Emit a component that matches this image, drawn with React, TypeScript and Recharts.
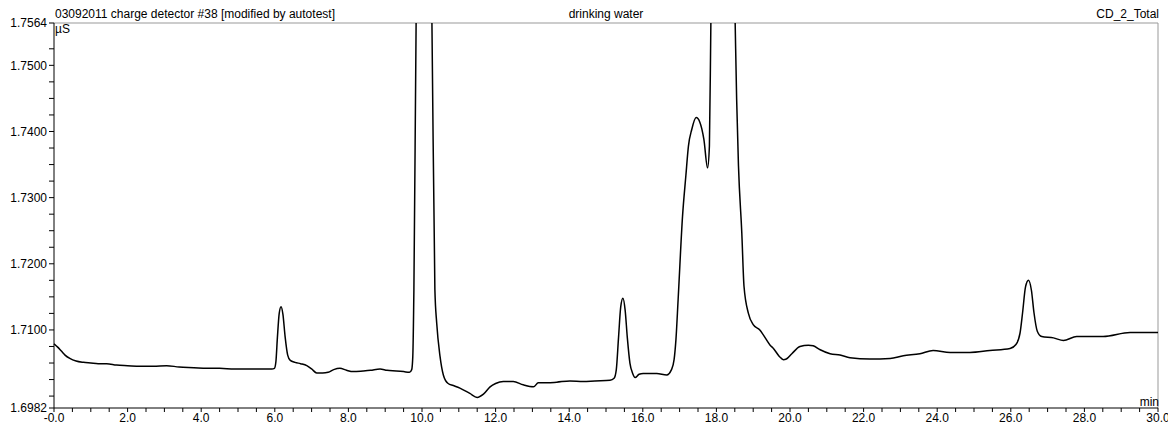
import React from 'react';
import { LineChart, Line, XAxis, YAxis, ReferenceLine } from 'recharts';

// retention time (min) and conductivity (µS)
const times = [
    0.0, 0.1, 0.2, 0.3, 0.43, 0.6, 0.8, 1.0, 1.2, 1.43, 1.7, 2.0, 2.34, 2.7, 3.06, 3.4, 3.8, 4.15, 4.5, 4.9,
    5.24, 5.6, 5.92, 5.99, 6.03, 6.07, 6.12, 6.17, 6.22, 6.28, 6.35, 6.42, 6.55, 6.7, 6.87, 7.0, 7.14, 7.3, 7.45, 7.6,
    7.77, 7.95, 8.13, 8.4, 8.6, 8.86, 9.05, 9.3, 9.5, 9.66, 9.72, 9.75, 9.78, 9.84, 9.95, 10.05, 10.17, 10.27, 10.35, 10.4,
    10.49, 10.58, 10.71, 10.85, 11.03, 11.3, 11.5, 11.67, 11.85, 12.0, 12.21, 12.48, 12.75, 13.03, 13.16, 13.4, 13.66, 14.02, 14.38, 14.7,
    15.11, 15.22, 15.28, 15.34, 15.4, 15.46, 15.52, 15.58, 15.65, 15.72, 15.79, 15.9, 16.01, 16.38, 16.65, 16.78, 16.85, 16.9, 16.96, 17.08,
    17.17, 17.24, 17.33, 17.45, 17.55, 17.66, 17.76, 17.81, 17.85, 18.0, 18.18, 18.36, 18.51, 18.55, 18.6, 18.69, 18.75, 18.87, 19.0, 19.18,
    19.27, 19.46, 19.55, 19.71, 19.82, 19.9, 20.05, 20.27, 20.5, 20.63, 20.82, 21.09, 21.36, 21.63, 22.17, 22.72, 23.08, 23.53, 23.89, 24.35,
    24.89, 25.43, 25.98, 26.14, 26.25, 26.32, 26.4, 26.48, 26.56, 26.63, 26.72, 26.84, 27.16, 27.43, 27.79, 28.51, 29.24, 29.97, 30.0
];
const conductivity = [
    1.7079, 1.7074, 1.7068, 1.7062, 1.7057, 1.7053, 1.7051, 1.705, 1.7049, 1.7049, 1.7047, 1.7046, 1.7045, 1.7045, 1.7046, 1.7044, 1.7043, 1.7042, 1.7042, 1.7041,
    1.7041, 1.7041, 1.7041, 1.7042, 1.7052, 1.7088, 1.7125, 1.7135, 1.7124, 1.709, 1.7062, 1.7054, 1.7051, 1.7049, 1.7046, 1.7041, 1.7035, 1.7035, 1.7036, 1.704,
    1.7042, 1.7039, 1.7037, 1.7038, 1.7039, 1.7041, 1.7039, 1.7038, 1.7037, 1.7036, 1.704, 1.706, 1.7161, 1.7564, 1.79, 1.81, 1.79, 1.7564, 1.7161, 1.711,
    1.706, 1.7032, 1.7019, 1.7016, 1.7012, 1.7004, 1.6998, 1.7003, 1.7014, 1.7019, 1.7022, 1.7022, 1.7017, 1.7014, 1.702, 1.702, 1.7021, 1.7023, 1.7022, 1.7023,
    1.7024, 1.7027, 1.704, 1.7088, 1.7135, 1.7148, 1.713, 1.7088, 1.705, 1.7035, 1.7028, 1.7033, 1.7034, 1.7034, 1.7032, 1.704, 1.7055, 1.7085, 1.7146, 1.7272,
    1.7333, 1.7378, 1.7403, 1.7421, 1.7414, 1.7388, 1.7345, 1.7378, 1.7566, 1.8, 1.83, 1.8, 1.7564, 1.7449, 1.7348, 1.7247, 1.7166, 1.7125, 1.7108, 1.71,
    1.7093, 1.7077, 1.7072, 1.706, 1.7055, 1.7056, 1.7064, 1.7075, 1.7077, 1.7076, 1.707, 1.7064, 1.7062, 1.7058, 1.7056, 1.7057, 1.7061, 1.7064, 1.7069, 1.7066,
    1.7066, 1.7069, 1.7072, 1.7078, 1.7095, 1.7126, 1.7165, 1.7175, 1.716, 1.7126, 1.7098, 1.709, 1.7088, 1.7084, 1.709, 1.709, 1.7096, 1.7096, 1.7096
];

const xMin = 0;
const xMax = 30;
const yMin = 1.6982;
const yMax = 1.7564;

// labelled ticks; the axes also carry unlabelled minor ticks
const xLabels: Record<string, string> = {
    '0': '-0.0', '2': '2.0', '4': '4.0', '6': '6.0', '8': '8.0', '10': '10.0', '12': '12.0', '14': '14.0',
    '16': '16.0', '18': '18.0', '20': '20.0', '22': '22.0', '24': '24.0', '26': '26.0', '28': '28.0', '30': '30.0'
};
const yLabels = ['1.6982', '1.7100', '1.7200', '1.7300', '1.7400', '1.7500', '1.7564'];
const yTicks = [
    1.6982, 1.7, 1.7025, 1.705, 1.7075, 1.71, 1.7125, 1.715, 1.7175, 1.72, 1.7225, 1.725, 1.7275,
    1.73, 1.7325, 1.735, 1.7375, 1.74, 1.7425, 1.745, 1.7475, 1.75, 1.7525, 1.7564
];
const xTicks = Array.from({ length: 61 }, (_, i) => i * 0.5);

const title = '03092011 charge detector #38 [modified by autotest]';
const sample = 'drinking water';
const channel = 'CD_2_Total';

const font = '"Liberation Sans", Arial, sans-serif';

const App: React.FC = () => {
    const data = times.map((t, i) => ({ t, v: conductivity[i] }));
    const textStyle: React.CSSProperties = {
        position: 'absolute',
        fontFamily: font,
        fontSize: 12,
        lineHeight: '13px',
        color: '#000',
        whiteSpace: 'nowrap'
    };

    return (
        <div style={{ position: 'absolute', left: 0, top: 0, width: 1168, height: 429, background: '#fff' }}>
            <LineChart width={1168} height={429} data={data} margin={{ top: 23, right: 10, bottom: 0, left: 0 }}>
                <XAxis
                    dataKey="t"
                    type="number"
                    domain={[xMin, xMax]}
                    ticks={xTicks}
                    interval={0}
                    tickSize={4}
                    tickMargin={1}
                    height={21}
                    stroke="#000"
                    tick={{ fontSize: 12, fontFamily: font, fill: '#000' }}
                    tickFormatter={(v: number) => xLabels[String(v)] ?? ''}
                />
                <YAxis
                    type="number"
                    domain={[yMin, yMax]}
                    allowDataOverflow
                    ticks={yTicks}
                    interval={0}
                    width={54}
                    tickSize={5}
                    tickMargin={2}
                    stroke="#000"
                    tick={{ fontSize: 12, fontFamily: font, fill: '#000' }}
                    tickFormatter={(v: number) => (yLabels.includes(v.toFixed(4)) ? v.toFixed(4) : '')}
                />
                <ReferenceLine y={yMax} stroke="#999" />
                <ReferenceLine x={xMax} stroke="#999" />
                <Line
                    type="monotone"
                    dataKey="v"
                    stroke="#000"
                    strokeWidth={1.5}
                    dot={false}
                    isAnimationActive={false}
                />
            </LineChart>
            <div style={{ ...textStyle, left: 55, top: 8 }}>{title}</div>
            <div style={{ ...textStyle, left: 606, top: 8, transform: 'translateX(-50%)' }}>{sample}</div>
            <div style={{ ...textStyle, right: 9, top: 8 }}>{channel}</div>
            <div style={{ ...textStyle, left: 55, top: 23 }}>µS</div>
            <div style={{ ...textStyle, right: 9, top: 396 }}>min</div>
        </div>
    );
};

export default App;
